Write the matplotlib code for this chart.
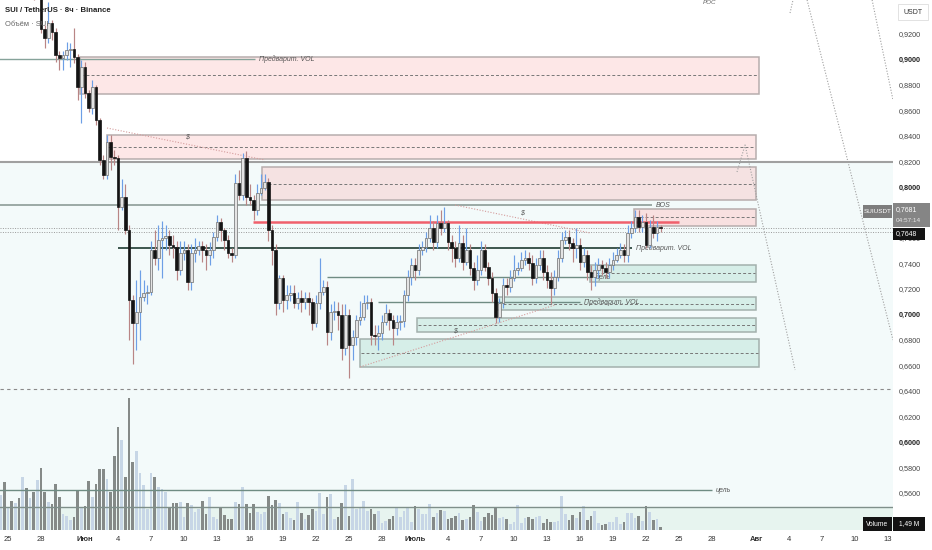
import numpy as np
import matplotlib
matplotlib.use("Agg")
import matplotlib.pyplot as plt
from matplotlib.patches import Rectangle

# ---------------- data ----------------
closes = [0.975, 0.968, 0.972, 0.962, 0.966, 0.958, 0.963, 0.956, 0.960, 0.952, 0.955,
          0.9240, 0.9169, 0.9287, 0.9216, 0.9036, 0.9012, 0.9036, 0.9075, 0.9083, 0.9020,
          0.8785, 0.8942, 0.8738, 0.8620, 0.8785, 0.8526, 0.8212, 0.8095, 0.8354, 0.8236,
          0.8228, 0.7844, 0.7923, 0.7664, 0.7114, 0.6935, 0.7021, 0.7139, 0.7170, 0.7178,
          0.7507, 0.7444, 0.7585, 0.7601, 0.7617, 0.7546, 0.7531, 0.7350, 0.7483, 0.7507,
          0.7256, 0.7483, 0.7507, 0.7538, 0.7507, 0.7468, 0.7507, 0.7609, 0.7727, 0.7664,
          0.7585, 0.7483, 0.7468, 0.8032, 0.7938, 0.8228, 0.7923, 0.7899, 0.7821, 0.7954,
          0.7993, 0.8040, 0.7664, 0.7507, 0.7091, 0.7287, 0.7115, 0.7154, 0.7170, 0.7091,
          0.7131, 0.7099, 0.7131, 0.7099, 0.6935, 0.7091, 0.7178, 0.7217, 0.6864, 0.7021,
          0.7029, 0.6997, 0.6739, 0.6997, 0.6762, 0.6825, 0.6958, 0.6982, 0.7091, 0.7099,
          0.6840, 0.6833, 0.6856, 0.6942, 0.7013, 0.6958, 0.6895, 0.6942, 0.6950, 0.7154,
          0.7295, 0.7389, 0.7350, 0.7507, 0.7531, 0.7601, 0.7679, 0.7570, 0.7719, 0.7679,
          0.7719, 0.7570, 0.7523, 0.7444, 0.7562, 0.7413, 0.7507, 0.7366, 0.7272, 0.7350,
          0.7507, 0.7374, 0.7287, 0.7170, 0.6982, 0.7091, 0.7233, 0.7217, 0.7287, 0.7350,
          0.7366, 0.7428, 0.7444, 0.7405, 0.7287, 0.7389, 0.7444, 0.7334, 0.7272, 0.7209,
          0.7295, 0.7444, 0.7585, 0.7609, 0.7562, 0.7523, 0.7546, 0.7413, 0.7468, 0.7334,
          0.7295, 0.7350, 0.7389, 0.7366, 0.7334, 0.7389, 0.7428, 0.7468, 0.7507, 0.7468,
          0.7640, 0.7679, 0.7766, 0.7687, 0.7727, 0.7546, 0.7687, 0.7640, 0.7687, 0.7681]
first_open = 0.970

highs = [0.982, 0.978, 0.979, 0.973, 0.972, 0.968, 0.969, 0.964, 0.966, 0.962, 0.962,
         0.960, 0.927, 0.945, 0.931, 0.925, 0.907, 0.907, 0.914, 0.913, 0.925,
         0.904, 0.900, 0.898, 0.876, 0.884, 0.880, 0.854, 0.825, 0.841, 0.841,
         0.829, 0.825, 0.806, 0.802, 0.770, 0.715, 0.727, 0.735, 0.727, 0.723,
         0.758, 0.766, 0.770, 0.773, 0.770, 0.766, 0.762, 0.758, 0.758, 0.758,
         0.755, 0.755, 0.760, 0.758, 0.758, 0.755, 0.757, 0.765, 0.778, 0.776,
         0.768, 0.762, 0.752, 0.810, 0.813, 0.827, 0.828, 0.802, 0.794, 0.802,
         0.810, 0.810, 0.807, 0.770, 0.755, 0.731, 0.731, 0.723, 0.723, 0.723,
         0.718, 0.719, 0.718, 0.718, 0.713, 0.715, 0.744, 0.727, 0.726, 0.708,
         0.711, 0.710, 0.708, 0.708, 0.704, 0.688, 0.700, 0.711, 0.715, 0.715,
         0.713, 0.692, 0.692, 0.700, 0.708, 0.704, 0.700, 0.700, 0.700, 0.719,
         0.735, 0.744, 0.744, 0.755, 0.758, 0.765, 0.778, 0.773, 0.778, 0.782,
         0.784, 0.774, 0.762, 0.758, 0.770, 0.762, 0.768, 0.755, 0.741, 0.747,
         0.758, 0.755, 0.741, 0.733, 0.721, 0.713, 0.729, 0.729, 0.735, 0.747,
         0.741, 0.749, 0.751, 0.749, 0.747, 0.744, 0.751, 0.751, 0.739, 0.733,
         0.735, 0.751, 0.765, 0.766, 0.766, 0.760, 0.768, 0.760, 0.752, 0.751,
         0.739, 0.741, 0.744, 0.743, 0.741, 0.744, 0.749, 0.752, 0.756, 0.755,
         0.770, 0.773, 0.782, 0.782, 0.778, 0.780, 0.774, 0.778, 0.773, 0.770]

lows = [0.966, 0.960, 0.962, 0.955, 0.957, 0.951, 0.953, 0.949, 0.951, 0.947, 0.948,
        0.921, 0.909, 0.913, 0.915, 0.898, 0.892, 0.892, 0.900, 0.894, 0.897,
        0.868, 0.850, 0.870, 0.859, 0.857, 0.849, 0.817, 0.806, 0.806, 0.813,
        0.817, 0.766, 0.782, 0.763, 0.680, 0.661, 0.672, 0.680, 0.711, 0.708,
        0.715, 0.739, 0.735, 0.729, 0.751, 0.747, 0.744, 0.727, 0.731, 0.743,
        0.719, 0.719, 0.741, 0.747, 0.741, 0.735, 0.739, 0.744, 0.758, 0.758,
        0.751, 0.744, 0.741, 0.744, 0.790, 0.790, 0.786, 0.786, 0.774, 0.778,
        0.794, 0.798, 0.758, 0.739, 0.700, 0.704, 0.702, 0.704, 0.711, 0.705,
        0.704, 0.702, 0.704, 0.700, 0.688, 0.690, 0.704, 0.715, 0.676, 0.680,
        0.696, 0.688, 0.664, 0.668, 0.650, 0.664, 0.676, 0.692, 0.696, 0.704,
        0.676, 0.676, 0.672, 0.680, 0.692, 0.688, 0.676, 0.684, 0.688, 0.690,
        0.711, 0.723, 0.727, 0.731, 0.747, 0.749, 0.757, 0.751, 0.752, 0.762,
        0.765, 0.751, 0.741, 0.737, 0.741, 0.735, 0.739, 0.731, 0.719, 0.723,
        0.731, 0.734, 0.723, 0.710, 0.693, 0.694, 0.705, 0.715, 0.718, 0.726,
        0.731, 0.734, 0.739, 0.735, 0.723, 0.725, 0.735, 0.727, 0.721, 0.708,
        0.715, 0.726, 0.741, 0.755, 0.751, 0.741, 0.744, 0.735, 0.737, 0.727,
        0.719, 0.722, 0.729, 0.731, 0.729, 0.729, 0.735, 0.741, 0.744, 0.741,
        0.741, 0.760, 0.765, 0.765, 0.765, 0.752, 0.752, 0.760, 0.758, 0.765]

volumes_m = [17.5, 24, 11.5, 14.5, 13.5, 16, 26.5, 21, 16, 19, 25,
             31, 19, 14, 13, 23, 16.5, 8, 7, 5, 6.5,
             20, 11.5, 12, 24.5, 16.5, 23, 30.5, 30.5, 25.5, 19,
             37, 51.5, 45, 26.5, 66, 34, 39.5, 28.5, 22.5, 10.5,
             28.5, 26.5, 21.5, 20.5, 19, 11.5, 13.5, 13.5, 14, 6.5,
             13.5, 12.5, 9, 10.5, 14.5, 8, 16.5, 6.5, 5.5, 11.5,
             7.5, 5.5, 5.5, 14, 13, 21.5, 13, 8.5, 13, 9,
             8, 9, 17, 12.5, 15, 13.5, 8, 9, 6, 5,
             14, 8.5, 5.5, 7.5, 10.5, 9.5, 18.5, 8, 16.5, 18,
             5.5, 6.5, 13.5, 22.5, 7, 25.5, 10.5, 11.5, 14.5, 9.5,
             10.5, 8, 9.5, 3.5, 4.5, 5.5, 7, 11.5, 6.5, 9.5,
             11.5, 4, 12, 10.5, 8, 8, 13, 6.5, 8.5, 10,
             9.5, 5.5, 6, 7, 8.5, 5, 5.5, 6.5, 12.5, 9,
             4.5, 6.5, 8.5, 7.5, 11.5, 6, 6.5, 5.5, 3, 4,
             12.5, 3.5, 6, 6.5, 5.5, 6.5, 7, 3.5, 5.5, 4,
             4, 4.5, 17, 8, 5, 7.5, 6, 9, 12, 5,
             7, 9.5, 3.5, 2.5, 3, 4, 4, 6.5, 3, 4,
             8.5, 8.5, 6, 7, 4.5, 12, 9, 5, 5.5, 1.49]

# time axis: days since 24 May 00:00 (8h bars)
tick_days = [1, 4, 8, 11, 14, 17, 20, 23, 26, 29, 32, 35, 38, 41, 44, 47, 50, 53,
             56, 59, 62, 65, 69, 72, 75, 78, 81]
tick_labels = ["25", "28", "Июн", "4", "7", "10", "13", "16", "19", "22", "25", "28",
               "Июль", "4", "7", "10", "13", "16", "19", "22", "25", "28", "Авг",
               "4", "7", "10", "13"]
month_labels = ["Июн", "Июль", "Авг"]
# 0,7800 is hidden behind the last-price tag in the reference
price_ticks = [0.54, 0.56, 0.58, 0.60, 0.62, 0.64, 0.66, 0.68, 0.70, 0.72, 0.74,
               0.76, 0.80, 0.82, 0.84, 0.86, 0.88, 0.90, 0.92]

# zones: (start_day, end_day, top, bottom, mid, face)
zones = [
    (7.55, 69.27, 0.9020, 0.8730, 0.8879, "#fde7e7"),
    (10.0, 69.0, 0.8409, 0.8220, 0.8314, "#fde7e7"),
    (24.1, 69.0, 0.8158, 0.7899, 0.8024, "#f5e2e2"),
    (57.9, 69.0, 0.7828, 0.7694, 0.7765, "#f8e0e0"),
    (53.9, 69.0, 0.7389, 0.7255, 0.7326, "#d6eee8"),
    (45.45, 69.0, 0.7138, 0.7036, 0.7083, "#d6eee8"),
    (38.2, 69.0, 0.6976, 0.6866, 0.6918, "#d6eee8"),
    (33.0, 69.27, 0.6809, 0.6589, 0.6698, "#d6eee8"),
]

# horizontal levels: (start_day, end_day, price, color, lw, label)
levels = [
    (0.0, 23.45, 0.9004, "#86a39a", 1.0, "Предварит. VOL"),
    (0.0, 59.5, 0.7859, "#8c9c97", 1.2, "BOS"),
    (11.0, 57.7, 0.7522, "#1e3a31", 1.2, "Предварит. VOL"),
    (30.0, 54.1, 0.7294, "#6f8c83", 1.0, "цель"),
    (34.6, 53.0, 0.7098, "#6f8c83", 1.0, "Предварит. VOL"),
    (0.0, 65.0, 0.5623, "#6f8c83", 1.0, "цель"),
]
red_level = (23.27, 62.0, 0.7726)
last_price = 0.7681
second_price = 0.7648
upper_band = 0.82
dashed_level = 0.6416
vol_floor_level = 0.5490

pink_trend = [((10.0, 0.8463), (24.36, 0.8212)),
              ((41.64, 0.7859), (53.9, 0.7640)),
              ((33.0, 0.6589), (50.73, 0.7075))]
grey_trend = [((67.27, 0.8118), (68.0, 0.8330), (72.55, 0.6565)),
              ((72.09, 0.9365), (72.36, 0.9467)),
              ((73.64, 0.9467), (81.45, 0.6800)),
              ((79.55, 0.9467), (81.45, 0.8683))]
dollar_marks = [(17.27, 0.8392), (47.7, 0.7796), (41.6, 0.6871)]

# ---------------- figure ----------------
plt.rcParams['font.family'] = ['Liberation Sans', 'DejaVu Sans']
W, H = 932, 550
fig = plt.figure(figsize=(W / 100, H / 100), dpi=100, facecolor="white")
ax = fig.add_axes([0, 1 - 530 / H, 893 / W, 530 / H])
axv = ax.twinx()
ax.set_zorder(2)
axv.set_zorder(1)
ax.patch.set_visible(False)

n = len(closes)
days = (np.arange(n) + 1) / 3.0
c = np.array(closes)
o = np.concatenate([[first_open], c[:-1]])
hi = np.maximum(np.array(highs), np.maximum(o, c))
lo = np.minimum(np.array(lows), np.minimum(o, c))
up = c >= o

XMIN, XMAX = 0.273, 81.45
YMIN, YMAX = 0.5310, 0.9467
ax.set_xlim(XMIN, XMAX)
ax.set_ylim(YMIN, YMAX)

# background bands (under volume)
axv.add_patch(Rectangle((XMIN, 0.50), XMAX - XMIN, upper_band - 0.50,
                        transform=ax.transData, facecolor="#f3fafa", edgecolor="none", zorder=0))
axv.add_patch(Rectangle((XMIN, 0.50), XMAX - XMIN, vol_floor_level - 0.50,
                        transform=ax.transData, facecolor="#e7f4ef", edgecolor="none", zorder=0))

# volume
vcol = np.where(up, "#c7d6e6", "#858a88")
axv.bar(days, volumes_m, width=0.25, color=vcol, zorder=2, linewidth=0)
axv.set_ylim(0, 265)
axv.set_xlim(XMIN, XMAX)
axv.yaxis.set_visible(False)

# zones
for x0, x1, top, bot, mid, face in zones:
    ax.add_patch(Rectangle((x0, bot), x1 - x0, top - bot, facecolor=face,
                           edgecolor="#b7adad" if face.startswith("#f") else "#a3b0ad",
                           lw=1.1, zorder=1))
    ax.hlines(mid, x0 + 0.1, x1 - 0.1, colors="#777777", lw=0.7,
              linestyles=(0, (3, 2.2)), zorder=1.5)

# full-width lines
ax.axhline(upper_band, color="#a0a0a0", lw=1.5, zorder=2)
ax.axhline(vol_floor_level, color="#7f8f8a", lw=1.0, zorder=2)
ax.axhline(dashed_level, color="#8a8a8a", lw=0.8, linestyle=(0, (3, 3)), zorder=2)
ax.axhline(last_price, color="#9a9a9a", lw=0.7, linestyle=(0, (1, 1.5)), zorder=2)
ax.axhline(second_price, color="#9a9a9a", lw=0.7, linestyle=(0, (1, 1.5)), zorder=2)

for x0, x1, p, col, lw, lab in levels:
    ax.hlines(p, x0, x1, colors=col, lw=lw, zorder=3)
    ax.text(x1 + 0.35, p, lab, fontsize=5, style="italic", color="#555555",
            ha="left", va="center", zorder=4)
ax.hlines(red_level[2], red_level[0], red_level[1], colors="#f0606c", lw=1.8, zorder=4)

for seg in pink_trend:
    xs, ys = zip(*seg)
    ax.plot(xs, ys, color="#d49c9c", lw=0.8, linestyle=(0, (1, 1.5)), zorder=3)
for seg in grey_trend:
    xs, ys = zip(*seg)
    ax.plot(xs, ys, color="#a0a0a0", lw=0.8, linestyle=(0, (1, 1.5)), zorder=3)
for x, p in dollar_marks:
    ax.text(x, p, "$", fontsize=5, style="italic", color="#555555", ha="center",
            va="center", zorder=4)
ax.text(64.2, YMAX - 0.002, "POC", fontsize=4.5, style="italic", color="#666666",
        ha="left", va="center", zorder=4, clip_on=True)

# candles
wick_col = np.where(up, "#6d9fe6", "#b98585")
ax.vlines(days, lo, hi, colors=wick_col, lw=0.85, zorder=5)
body_bot = np.minimum(o, c)
body_h = np.maximum(np.abs(c - o), 0.0007)
ax.bar(days[up], body_h[up], bottom=body_bot[up], width=0.25,
       facecolor="#e4e4e4", edgecolor="#6e6e6e", linewidth=0.5, zorder=6)
ax.bar(days[~up], body_h[~up], bottom=body_bot[~up], width=0.25,
       facecolor="#141414", edgecolor="#141414", linewidth=0.5, zorder=6)

# axes cosmetics
for a in (ax, axv):
    for s in a.spines.values():
        s.set_visible(False)
ax.set_xticks(tick_days)
ax.set_xticklabels(tick_labels)
ax.tick_params(axis="x", length=0, pad=4, labelsize=5.5, labelcolor="#333333")
for t in ax.get_xticklabels():
    if t.get_text() in month_labels:
        t.set_fontweight("bold")
ax.yaxis.tick_right()
ax.set_yticks(price_ticks)
ax.set_yticklabels([f"{p:.4f}".replace(".", ",") for p in price_ticks])
ax.tick_params(axis="y", length=0, pad=4, labelsize=5.2, labelcolor="#444444")
for t, p in zip(ax.get_yticklabels(), price_ticks):
    if abs(p * 10 - round(p * 10)) < 1e-6:
        t.set_fontweight("bold")
        t.set_color("#222222")


# ---------------- overlay labels ----------------
def fx(x):
    return x / W


def fy(y):
    return 1 - y / H


def box(x0, y0, x1, y1, color, ec="none"):
    fig.add_artist(Rectangle((fx(x0), fy(y1)), fx(x1) - fx(x0), fy(y0) - fy(y1),
                             transform=fig.transFigure, facecolor=color, edgecolor=ec,
                             lw=0.6, zorder=5))


fig.text(fx(5), fy(11), "SUI / TetherUS · 8ч · Binance", fontsize=5.6, fontweight="bold",
         color="#222222", va="center", ha="left", zorder=6)
fig.text(fx(5), fy(25), "Объём · SUI", fontsize=5.4, color="#666666", va="center",
         ha="left", zorder=6)

box(898, 4, 928, 20, "white", ec="#dddddd")
fig.text(fx(913), fy(12), "USDT", fontsize=5, color="#333333", ha="center", va="center", zorder=6)

box(863, 205, 892, 218, "#7d7d7d")
fig.text(fx(877.5), fy(211.5), "SUIUSDT", fontsize=4.6, color="white", ha="center",
         va="center", zorder=6)
box(893, 203, 930, 227, "#858585")
fig.text(fx(896), fy(209.5), "0,7681", fontsize=5, color="white", ha="left", va="center", zorder=6)
fig.text(fx(896), fy(220.5), "04:57:14", fontsize=4.6, color="#e6e6e6", ha="left",
         va="center", zorder=6)
box(893, 228, 925, 240, "#131313")
fig.text(fx(896), fy(234), "0,7648", fontsize=5, color="white", ha="left", va="center", zorder=6)

box(863, 517, 892, 531, "#131313")
fig.text(fx(877.5), fy(524), "Volume", fontsize=4.8, color="white", ha="center",
         va="center", zorder=6)
box(893, 517, 925, 531, "#131313")
fig.text(fx(909), fy(524), "1,49 M", fontsize=4.8, color="white", ha="center",
         va="center", zorder=6)

fig.savefig("out.png", dpi=100, facecolor="white")
